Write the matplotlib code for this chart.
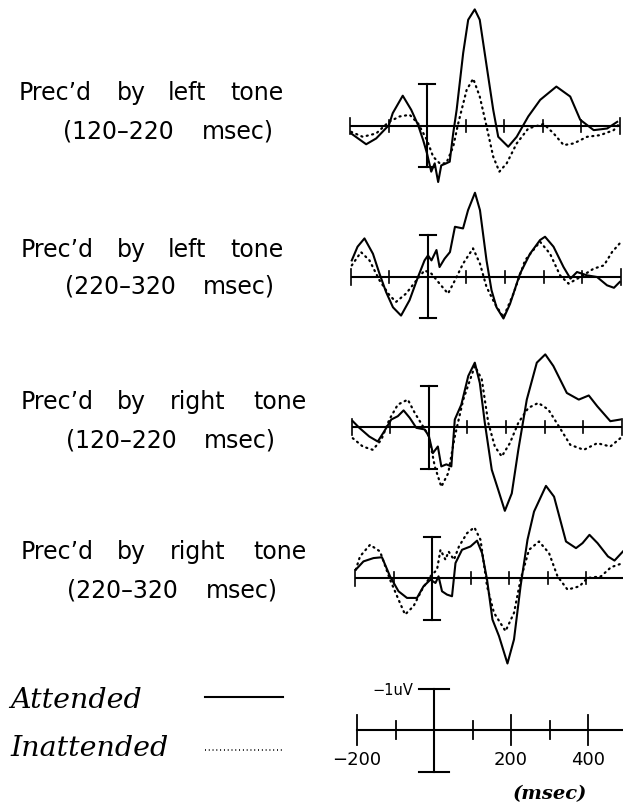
import matplotlib
matplotlib.use("Agg")
import matplotlib.pyplot as plt
import numpy as np

# ---------------- data (amplitude in uV, plotted negative-up convention: values here are "up" amplitudes) ----
# Panel 1: preceded by left tone (120-220 msec)
p1_att_t = [-197, -158, -132, -99, -89, -63, -41, -23, -10, 0, 11, 20, 29, 37, 50, 59, 68, 77, 94, 107, 124, 137, 155, 172, 185, 211, 233, 263, 294, 336, 372, 398, 433, 468, 494]
p1_att_v = [-0.18, -0.44, -0.30, 0.02, 0.31, 0.73, 0.39, 0.02, -0.34, -0.66, -1.10, -0.90, -1.35, -0.95, -0.90, -0.86, -0.18, 0.39, 1.76, 2.56, 2.81, 2.56, 1.44, 0.39, -0.26, -0.50, -0.26, 0.23, 0.63, 0.95, 0.71, 0.15, -0.10, -0.06, 0.10]
p1_ina_t = [-197, -167, -132, -99, -71, -45, -23, 0, 16, 33, 50, 68, 81, 103, 120, 137, 155, 172, 188, 207, 233, 263, 303, 329, 355, 381, 416, 450, 485, 500]
p1_ina_v = [-0.14, -0.26, -0.18, 0.10, 0.23, 0.27, 0.06, -0.34, -0.74, -0.90, -0.90, -0.50, 0.06, 0.87, 1.14, 0.71, -0.02, -0.74, -1.10, -0.90, -0.42, -0.06, 0.05, -0.18, -0.46, -0.42, -0.26, -0.22, -0.10, 0.06]

# Panel 2: preceded by left tone (220-320 msec)
p2_att_t = [-198, -183, -165, -143, -126, -109, -91, -70, -48, -26, -9, 0, 9, 22, 30, 43, 57, 70, 91, 104, 122, 135, 152, 165, 178, 196, 213, 239, 265, 291, 304, 326, 352, 370, 387, 413, 439, 465, 483, 498]
p2_att_v = [0.40, 0.73, 0.93, 0.56, 0.08, -0.36, -0.73, -0.93, -0.56, 0.00, 0.40, 0.52, 0.40, 0.65, 0.24, 0.44, 0.60, 1.21, 1.17, 1.61, 2.03, 1.61, 0.40, -0.32, -0.73, -1.00, -0.65, 0.08, 0.56, 0.89, 0.97, 0.73, 0.24, -0.04, 0.12, 0.04, 0.00, -0.20, -0.26, -0.12]
p2_ina_t = [-198, -174, -152, -126, -100, -83, -57, -30, -9, 9, 30, 52, 70, 91, 117, 135, 152, 174, 196, 222, 252, 291, 317, 343, 365, 396, 430, 457, 478, 498]
p2_ina_v = [0.28, 0.60, 0.40, -0.08, -0.44, -0.60, -0.40, -0.08, 0.16, 0.08, -0.16, -0.40, -0.08, 0.32, 0.69, 0.32, -0.24, -0.65, -0.97, -0.40, 0.40, 0.85, 0.56, 0.04, -0.16, 0.00, 0.20, 0.28, 0.60, 0.81]

# Panel 3: preceded by right tone (120-220 msec)
p3_att_t = [-198, -181, -155, -133, -116, -98, -81, -66, -50, -33, -11, 0, 10, 23, 32, 45, 58, 67, 84, 102, 119, 132, 145, 163, 180, 197, 215, 232, 254, 280, 302, 323, 358, 389, 415, 437, 471, 497]
p3_att_v = [0.14, -0.02, -0.23, -0.35, -0.10, 0.18, 0.26, 0.40, 0.22, -0.02, -0.06, -0.23, -0.63, -0.47, -0.95, -0.90, -0.95, 0.18, 0.54, 1.23, 1.55, 1.06, 0.10, -1.03, -1.52, -2.02, -1.60, -0.55, 0.66, 1.55, 1.75, 1.47, 0.82, 0.66, 0.76, 0.50, 0.14, 0.18]
p3_ina_t = [-198, -172, -146, -124, -103, -81, -55, -37, -16, 0, 15, 32, 50, 67, 89, 119, 137, 154, 171, 189, 210, 232, 258, 284, 310, 337, 367, 402, 437, 471, 497]
p3_ina_v = [-0.27, -0.47, -0.55, -0.31, 0.18, 0.54, 0.66, 0.34, 0.02, -0.23, -0.95, -1.44, -1.11, -0.23, 0.66, 1.47, 1.15, 0.10, -0.47, -0.71, -0.39, 0.10, 0.46, 0.58, 0.42, 0.02, -0.43, -0.55, -0.39, -0.47, -0.27]

# Panel 4: preceded by right tone (220-320 msec)
p4_att_t = [-198, -178, -152, -130, -109, -87, -65, -39, -22, -4, 9, 17, 26, 39, 52, 61, 78, 100, 117, 130, 143, 157, 174, 196, 213, 230, 248, 265, 296, 317, 348, 374, 391, 409, 430, 457, 474, 496]
p4_att_v = [0.20, 0.40, 0.48, 0.50, 0.04, -0.32, -0.48, -0.48, -0.20, -0.04, -0.12, 0.04, -0.32, -0.40, -0.44, 0.36, 0.68, 0.76, 0.90, 0.60, -0.04, -1.00, -1.40, -2.06, -1.48, -0.20, 0.92, 1.60, 2.22, 1.96, 0.88, 0.72, 0.84, 1.04, 0.84, 0.52, 0.42, 0.64]
p4_ina_t = [-198, -187, -161, -135, -109, -87, -70, -48, -26, -4, 13, 22, 35, 43, 57, 70, 91, 110, 126, 143, 161, 191, 213, 230, 252, 278, 304, 326, 352, 383, 404, 439, 465, 496]
p4_ina_v = [0.20, 0.52, 0.80, 0.64, -0.04, -0.52, -0.88, -0.68, -0.28, 0.04, 0.20, 0.68, 0.44, 0.64, 0.44, 0.76, 1.08, 1.22, 0.92, -0.20, -0.84, -1.28, -0.84, -0.04, 0.68, 0.88, 0.60, 0.04, -0.28, -0.20, 0.00, 0.04, 0.26, 0.36]

panel_line1 = [["Prec\u2019d", "by", "left", "tone"],
               ["Prec\u2019d", "by", "left", "tone"],
               ["Prec\u2019d", "by", "right", "tone"],
               ["Prec\u2019d", "by", "right", "tone"]]
panel_line2 = [["(120\u2013220", "msec)"],
               ["(220\u2013320", "msec)"],
               ["(120\u2013220", "msec)"],
               ["(220\u2013320", "msec)"]]
time_ticks = [-200, -100, 0, 100, 200, 300, 400, 500]
scale_labels = ["\u2212200", "200", "400"]
scale_label_pos = [-200, 200, 400]
legend_labels = ["Attended", "Inattended"]

# ---------------- layout helpers ----------------
W, H = 623, 805
fig = plt.figure(figsize=(W / 100, H / 100), dpi=100)
PX_MS = 0.385   # px per ms
PX_UV = 41.5    # px per uV

def make_axes(x0, y0, left=330, right=623, half=135):
    ax = fig.add_axes([left / W, 1 - (y0 + half) / H, (right - left) / W, 2 * half / H])
    ax.set_xlim((left - x0) / PX_MS, (right - x0) / PX_MS)
    ax.set_ylim(-half / PX_UV, half / PX_UV)
    ax.axis("off")
    ax.patch.set_alpha(0)
    return ax

K = "black"
LW = 1.5
panels = [
    (427, 126, p1_att_t, p1_att_v, p1_ina_t, p1_ina_v),
    (428, 277, p2_att_t, p2_att_v, p2_ina_t, p2_ina_v),
    (429, 427, p3_att_t, p3_att_v, p3_ina_t, p3_ina_v),
    (432, 578, p4_att_t, p4_att_v, p4_ina_t, p4_ina_v),
]
title_rows = [(93, 132), (250, 286), (402, 440), (552, 590)]
# word centre positions (px)
word_c1 = [[55, 131, 187, 257], [57, 131, 187, 257], [57, 131, 198, 280], [57, 131, 198, 280]]
word_c2 = [[118, 238], [120, 239], [121, 240], [122, 242]]

for i, (x0, y0, at, av, it, iv) in enumerate(panels):
    ax = make_axes(x0, y0)
    ax.plot([-200, 500], [0, 0], color=K, lw=LW, solid_capstyle="butt")
    for t in time_ticks:
        if t == 0:
            continue
        h = 0.19 if t in (-200, 500) else 0.15
        ax.plot([t, t], [-h, h], color=K, lw=1.2)
    ax.plot([0, 0], [-1, 1], color=K, lw=LW)
    ax.plot([-20, 20], [1, 1], color=K, lw=LW)
    ax.plot([-20, 20], [-1, -1], color=K, lw=LW)
    ax.plot(at, av, color=K, lw=LW, solid_joinstyle="round")
    ax.plot(it, iv, color=K, lw=1.6, linestyle=(0, (0.5, 2.0)), dash_capstyle="round")
    r1, r2 = title_rows[i]
    for w, xw in zip(panel_line1[i], word_c1[i]):
        fig.text(xw / W, 1 - r1 / H, w, fontsize=17, family="DejaVu Sans",
                 va="center", ha="center")
    for w, xw in zip(panel_line2[i], word_c2[i]):
        fig.text(xw / W, 1 - r2 / H, w, fontsize=17, family="DejaVu Sans",
                 va="center", ha="center")

# ---------------- scale axis at bottom ----------------
x0, y0 = 434, 730
ax = make_axes(x0, y0, half=75)
ax.plot([-200, 500], [0, 0], color=K, lw=LW)
for t in time_ticks:
    if t == 0 or t == 500:
        continue
    h = 0.36 if t in (-200, 200, 400) else 0.22
    ax.plot([t, t], [-h, h], color=K, lw=1.3)
ax.plot([0, 0], [-1, 1], color=K, lw=LW)
ax.plot([-40, 40], [1, 1], color=K, lw=LW)
ax.plot([-40, 40], [-1, -1], color=K, lw=LW)
for lab, t in zip(scale_labels, scale_label_pos):
    ax.text(t, -0.72, lab, ha="center", va="center", fontsize=13, family="DejaVu Sans")
ax.text(-55, 0.95, "\u22121uV", ha="right", va="center", fontsize=10.5, family="DejaVu Sans")
ax.text(300, -1.55, "(msec)", ha="center", va="center", fontsize=14,
        family="DejaVu Serif", style="italic", weight="bold")

# ---------------- legend ----------------
fig.text(10 / W, 1 - 700 / H, legend_labels[0], fontsize=20.5, family="DejaVu Serif",
         style="italic", va="center", ha="left")
fig.text(10 / W, 1 - 748 / H, legend_labels[1], fontsize=20.5, family="DejaVu Serif",
         style="italic", va="center", ha="left")
lax = fig.add_axes([0, 0, 1, 1])
lax.set_xlim(0, W)
lax.set_ylim(H, 0)
lax.axis("off")
lax.patch.set_alpha(0)
lax.plot([205, 283], [697, 697], color=K, lw=LW)
lax.plot([205, 283], [750, 750], color=K, lw=1.3, linestyle=(0, (0.5, 1.6)))

fig.savefig("out.png", dpi=100, facecolor="white")
